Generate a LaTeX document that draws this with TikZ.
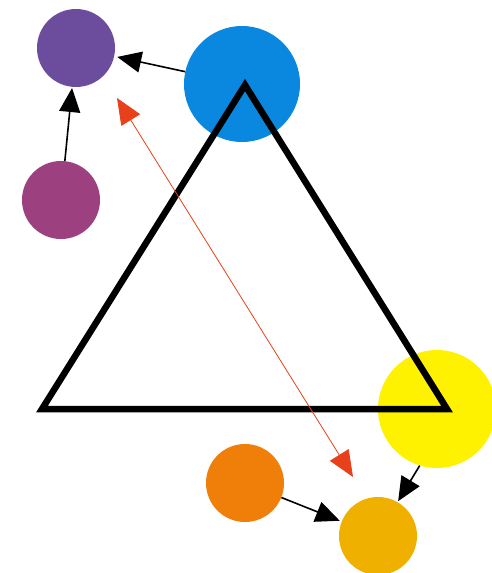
\documentclass[tikz,border=0pt]{standalone}
\usepackage[usenames,dvipsnames,svgnames]{xcolor}
\usepackage{tikz}
\usetikzlibrary{arrows.meta}

\definecolor{ballpurple}{RGB}{108,76,156}
\definecolor{ballblue}{RGB}{10,136,224}
\definecolor{ballmagenta}{RGB}{156,64,128}
\definecolor{ballyellow}{RGB}{255,242,0}
\definecolor{ballorange}{RGB}{240,127,9}
\definecolor{ballgold}{RGB}{240,176,0}
\definecolor{arrowred}{RGB}{232,64,26}

\begin{document}
\begin{tikzpicture}[x=1pt,y=-1pt]
		\tikzset{ball/.style={circle, inner sep=0pt, minimum size=#1}}
		\tikzset{push/.style={line width=1.6pt, -{Triangle[length=24pt,width=21pt]}}}
		\tikzset{redtip/.style={arrowred, line width=0.8pt, {Triangle[length=26pt,width=22pt]}-{Triangle[length=26pt,width=22pt]}}}
		\useasboundingbox (0,0) rectangle (492,573);
		% balls
		\node[ball=78pt, fill=ballpurple] (purple) at (76,48) {};
		\node[ball=116pt, fill=ballblue] (blue) at (242,84) {};
		\node[ball=78pt, fill=ballmagenta] (magenta) at (61,200) {};
		\node[ball=118pt, fill=ballyellow] (yellow) at (437,409) {};
		\node[ball=78pt, fill=ballorange] (orange) at (245,483) {};
		\node[ball=78pt, fill=ballgold] (gold) at (378,536) {};
		% triangle
		\coordinate (A) at (245,85);
		\coordinate (B) at (42,409);
		\coordinate (C) at (447,409);
		\draw[line width=6.5pt] (A) -- (B) -- (C) -- cycle;
		% arrows
		\draw[push, shorten >=3pt] (blue) -- (purple);
		\draw[push, shorten >=1pt] (magenta) -- (purple);
		\draw[push, shorten >=1pt] (yellow.253) -- (gold.60);
		\draw[push, shorten >=2pt] (orange) -- (gold);
		\coordinate (r1) at (117,98);
		\coordinate (r2) at (353,477);
		\draw[redtip] (r1) -- (r2);
	\end{tikzpicture}
\end{document}
